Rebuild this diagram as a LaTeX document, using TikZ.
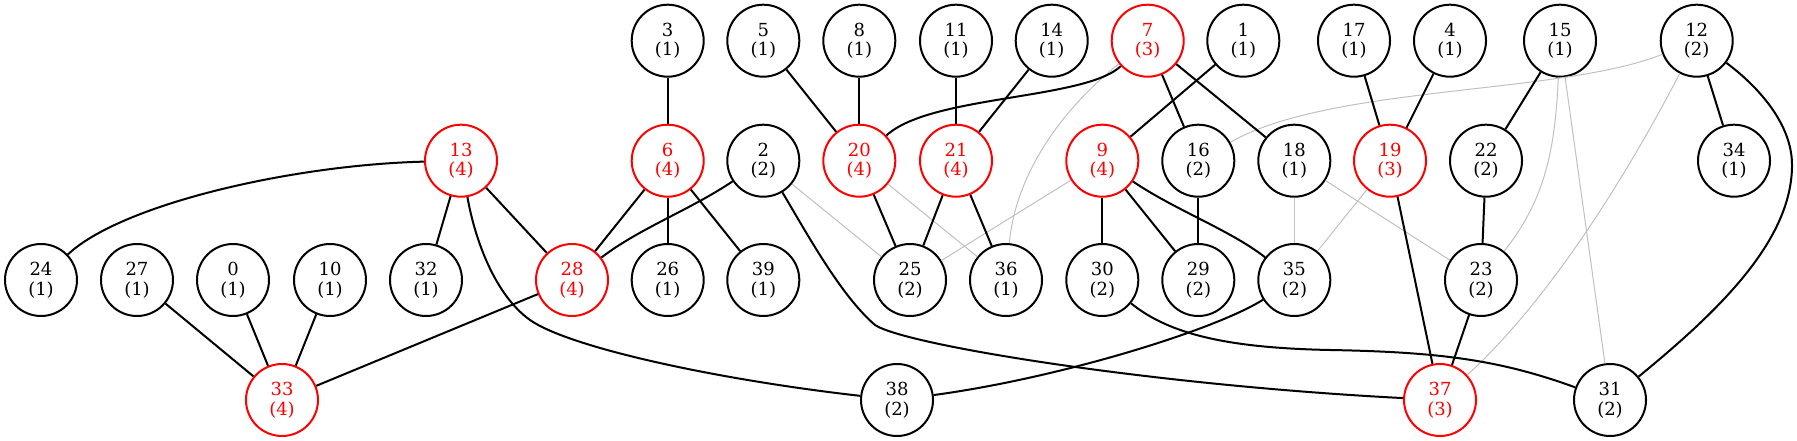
\documentclass[tikz,border=0pt]{standalone}
\usepackage{fontspec}
\setmainfont{DejaVu Serif}
\definecolor{gv}{HTML}{C0C0C0}
\begin{document}
\begin{tikzpicture}[x=0.75pt,y=-0.75pt,
  nd/.style={circle,draw=black,line width=1.5pt,minimum size=54pt,inner sep=0pt,align=center,
    font=\fontsize{13.5}{14.7}\selectfont,text=black},
  rd/.style={nd,draw=red,text=red},
  be/.style={line width=1.5pt,draw=black},
  ge/.style={line width=0.75pt,draw=gv}]
\useasboundingbox (0,0) rectangle (1797,441);
% rank 0
\node[nd] (n3)  at (667.7,40.7)  {3\\(1)};
\node[nd] (n5)  at (763.3,40.7)  {5\\(1)};
\node[nd] (n8)  at (859.3,40.7)  {8\\(1)};
\node[nd] (n11) at (956,40.7)    {11\\(1)};
\node[nd] (n14) at (1051.7,40.7) {14\\(1)};
\node[rd] (n7)  at (1147.7,40.7) {7\\(3)};
\node[nd] (n1)  at (1243.3,40.7) {1\\(1)};
\node[nd] (n17) at (1354,40.7)   {17\\(1)};
\node[nd] (n4)  at (1450,40.7)   {4\\(1)};
\node[nd] (n15) at (1560,40.7)   {15\\(1)};
\node[nd] (n12) at (1696.7,40.7) {12\\(2)};
% rank 1
\node[rd] (n13) at (461,160.7)    {13\\(4)};
\node[rd] (n6)  at (667.7,160.7)  {6\\(4)};
\node[nd] (n2)  at (763.3,160.7)  {2\\(2)};
\node[rd] (n20) at (859.3,160.7)  {20\\(4)};
\node[rd] (n21) at (956,160.7)    {21\\(4)};
\node[rd] (n9)  at (1102.3,160.7) {9\\(4)};
\node[nd] (n16) at (1198.3,160.7) {16\\(2)};
\node[nd] (n18) at (1294.3,160.7) {18\\(1)};
\node[rd] (n19) at (1390,160.7)   {19\\(3)};
\node[nd] (n22) at (1486,160.7)   {22\\(2)};
\node[nd] (n34) at (1734,160.7)   {34\\(1)};
% rank 2
\node[nd] (n24) at (41,280)     {24\\(1)};
\node[nd] (n27) at (137,280)    {27\\(1)};
\node[nd] (n0)  at (233,280)    {0\\(1)};
\node[nd] (n10) at (330,280)    {10\\(1)};
\node[nd] (n32) at (426,280)    {32\\(1)};
\node[rd] (n28) at (572,280)    {28\\(4)};
\node[nd] (n26) at (667.7,280)  {26\\(1)};
\node[nd] (n39) at (763.3,280)  {39\\(1)};
\node[nd] (n25) at (910,280)    {25\\(2)};
\node[nd] (n36) at (1006,280)   {36\\(1)};
\node[nd] (n30) at (1102.3,280) {30\\(2)};
\node[nd] (n29) at (1198.3,280) {29\\(2)};
\node[nd] (n35) at (1294.3,280) {35\\(2)};
\node[nd] (n23) at (1481,280)   {23\\(2)};
% rank 3
\node[rd] (n33) at (282,400)  {33\\(4)};
\node[nd] (n38) at (897,400)  {38\\(2)};
\node[rd] (n37) at (1440,400) {37\\(3)};
\node[nd] (n31) at (1610,400) {31\\(2)};
% gray edges
\draw[ge] (n2) -- (n25);
\draw[ge] (n20) -- (n36);
\draw[ge] (n9) -- (n25);
\draw[ge] (n18) -- (n35);
\draw[ge] (n18) -- (n23);
\draw[ge] (n19) -- (n35);
\draw[ge] (n15) -- (n31);
\draw[ge] (n7) .. controls (1055,115) and (1015,180) .. (n36);
\draw[ge] (n12) .. controls (1560,95) and (1330,85) .. (n16);
\draw[ge] (n15) .. controls (1555,150) and (1545,200) .. (n23);
\draw[ge] (n12) .. controls (1640,150) and (1560,290) .. (n37);
% black edges
\draw[be] (n13) .. controls (290,165) and (120,205) .. (n24);
\draw[be] (n13) -- (n32);
\draw[be] (n13) -- (n28);
\draw[be] (n13) .. controls (475,240) and (495,295) .. (530,320) .. controls (570,348) and (720,380) .. (n38);
\draw[be] (n27) -- (n33);
\draw[be] (n0) -- (n33);
\draw[be] (n10) -- (n33);
\draw[be] (n28) -- (n33);
\draw[be] (n3) -- (n6);
\draw[be] (n6) -- (n28);
\draw[be] (n6) -- (n26);
\draw[be] (n6) -- (n39);
\draw[be] (n2) .. controls (690,210) and (640,228) .. (n28);
\draw[be] (n2) .. controls (805,230) and (840,295) .. (875,325) .. controls (905,345) and (1150,385) .. (n37);
\draw[be] (n5) -- (n20);
\draw[be] (n8) -- (n20);
\draw[be] (n7) .. controls (1085,100) and (930,95) .. (n20);
\draw[be] (n11) -- (n21);
\draw[be] (n14) -- (n21);
\draw[be] (n20) -- (n25);
\draw[be] (n21) -- (n25);
\draw[be] (n21) -- (n36);
\draw[be] (n1) -- (n9);
\draw[be] (n7) -- (n16);
\draw[be] (n7) -- (n18);
\draw[be] (n9) -- (n30);
\draw[be] (n9) -- (n29);
\draw[be] (n9) .. controls (1175,210) and (1230,230) .. (n35);
\draw[be] (n16) -- (n29);
\draw[be] (n30) .. controls (1170,335) and (1230,348) .. (1330,350) .. controls (1440,352) and (1500,360) .. (n31);
\draw[be] (n35) .. controls (1215,330) and (1060,378) .. (n38);
\draw[be] (n17) -- (n19);
\draw[be] (n4) -- (n19);
\draw[be] (n19) -- (n37);
\draw[be] (n15) -- (n22);
\draw[be] (n22) -- (n23);
\draw[be] (n23) -- (n37);
\draw[be] (n12) -- (n34);
\draw[be] (n12) .. controls (1760,88) and (1792,125) .. (1792,165) .. controls (1792,240) and (1720,310) .. (n31);
\end{tikzpicture}
\end{document}
